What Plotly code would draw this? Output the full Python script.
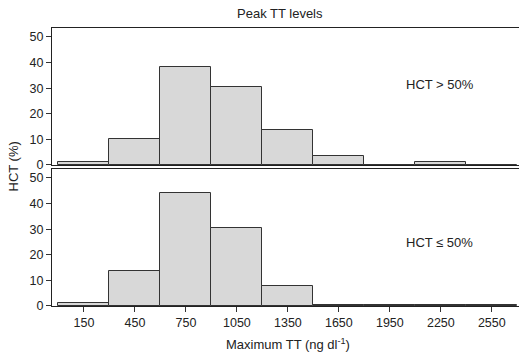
import plotly.graph_objects as go
from plotly.subplots import make_subplots

bin_centers = [150, 450, 750, 1050, 1350, 1650, 1950, 2250, 2550]
hct_high = [1.2, 10.0, 38.2, 30.6, 13.7, 3.5, 0.0, 1.0, 0.0]
hct_low = [1.1, 13.8, 44.2, 30.6, 7.9, 0.5, 0.5, 0.5, 0.5]
tick_vals = [150, 450, 750, 1050, 1350, 1650, 1950, 2250, 2550]
y_ticks = [0, 10, 20, 30, 40, 50]

FONT = "Liberation Sans, Arial, sans-serif"
fig = make_subplots(rows=2, cols=1, shared_xaxes=True, vertical_spacing=0.0145)

bar_style = dict(marker=dict(color="#d8d8d8", line=dict(color="#333333", width=1)),
                 width=300, showlegend=False)
fig.add_trace(go.Bar(x=bin_centers, y=hct_high, **bar_style), row=1, col=1)
fig.add_trace(go.Bar(x=bin_centers, y=hct_low, **bar_style), row=2, col=1)

for r in (1, 2):
    fig.update_yaxes(range=[0, 53.5], tickvals=y_ticks, ticks="outside", ticklen=5,
                     tickcolor="#333", showline=True, linecolor="#222", linewidth=1,
                     mirror=True, showgrid=False, zeroline=False,
                     tickfont=dict(size=12.5, color="#222"), row=r, col=1)
    fig.update_xaxes(range=[-38, 2710], showline=True, linecolor="#222", linewidth=1,
                     mirror=True, showgrid=False, zeroline=False, row=r, col=1)
fig.update_xaxes(tickvals=tick_vals, ticks="outside", ticklen=5, tickcolor="#333",
                 tickfont=dict(size=12.5, color="#222"), row=2, col=1)
fig.update_xaxes(showticklabels=False, ticks="", row=1, col=1)

fig.add_annotation(x=2244, y=31.4, xref="x", yref="y", text="HCT > 50%",
                   showarrow=False, font=dict(size=13, color="#222"))
fig.add_annotation(x=2244, y=24.8, xref="x2", yref="y2", text="HCT ≤ 50%",
                   showarrow=False, font=dict(size=13, color="#222"))

fig.update_layout(
    width=519, height=354,
    margin=dict(l=52, r=0, t=28, b=48),
    plot_bgcolor="white", paper_bgcolor="white",
    font=dict(family=FONT, size=13, color="#222"),
    bargap=0,
    annotations=list(fig.layout.annotations) + [
        dict(text="Peak TT levels", x=0.488, y=1, xref="paper", yref="paper",
             yanchor="bottom", yshift=5, showarrow=False, font=dict(size=13)),
        dict(text="Maximum TT (ng dl<sup>-1</sup>)", x=0.505, y=0, xref="paper",
             yref="paper", yanchor="top", yshift=-28, showarrow=False,
             font=dict(size=13)),
        dict(text="HCT (%)", x=0, y=0.5, xref="paper", yref="paper", textangle=-90,
             xanchor="right", xshift=-30, showarrow=False, font=dict(size=13)),
    ],
)

fig.write_html("out.html", config={"displayModeBar": False},
               post_script="document.body.style.margin='0';")
